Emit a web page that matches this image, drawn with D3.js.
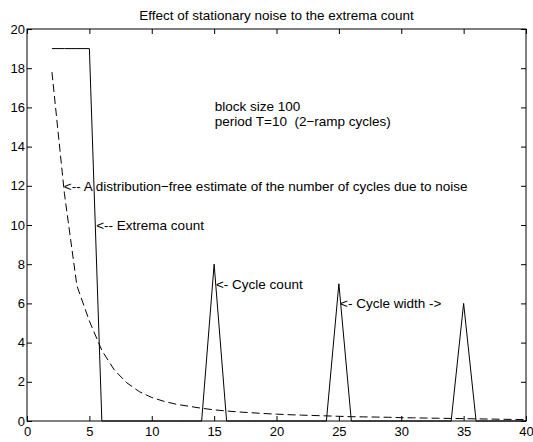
<!DOCTYPE html>
<html>
<head>
<meta charset="utf-8">
<script src="https://cdn.jsdelivr.net/npm/d3@7"></script>
<style>
  body { margin: 0; background: #fff; }
  text { font-family: "Liberation Sans", Arial, sans-serif; white-space: pre; }
</style>
</head>
<body>
<div id="G"></div>
<script>
// extrema count / cycle count (solid), x = 2..40
var xs = d3.range(2, 41);
var countVals = [19, 19, 19, 19, 0, 0, 0, 0, 0, 0, 0, 0, 0, 8, 0, 0, 0, 0, 0, 0, 0, 0, 0, 7, 0, 0, 0, 0, 0, 0, 0, 0, 0, 6, 0, 0, 0, 0, 0];
// distribution-free estimate of cycles due to noise (dashed)
var noiseVals = [17.8, 11.6, 6.9, 5.1, 3.6, 2.6, 1.95, 1.5, 1.2, 1.0, 0.85, 0.75, 0.65, 0.57, 0.51, 0.46, 0.42, 0.38, 0.35, 0.32,
  0.30, 0.28, 0.26, 0.24, 0.22, 0.21, 0.20, 0.19, 0.17, 0.16, 0.15, 0.14, 0.13, 0.12, 0.11, 0.10, 0.09, 0.08, 0.07];
var xTicks = [0, 5, 10, 15, 20, 25, 30, 35, 40];
var yTicks = [0, 2, 4, 6, 8, 10, 12, 14, 16, 18, 20];
var titleText = "Effect of stationary noise to the extrema count";
var notes = [
  { x: 15.05, y: 16.05, t: "block size 100" },
  { x: 15.05, y: 15.3, t: "period T=10  (2\u2212ramp cycles)" },
  { x: 2.95, y: 12, t: "<-- A distribution\u2212free estimate of the number of cycles due to noise" },
  { x: 5.55, y: 10, t: "<-- Extrema count" },
  { x: 15.15, y: 7, t: "<- Cycle count" },
  { x: 25.1, y: 6, t: "<- Cycle width ->" }
];

var Border = { top: 29, right: 7, bottom: 21, left: 27 },
  width = 533 - Border.left - Border.right,
  height = 442 - Border.top - Border.bottom;

var svg = d3.select("#G")
  .append("svg")
  .attr("width", 533)
  .attr("height", 442)
  .append("g")
  .attr("transform", "translate(" + Border.left + "," + Border.top + ")");

var x = d3.scaleLinear().domain([0, 40]).range([0, width]);
var y = d3.scaleLinear().domain([0, 20]).range([height, 0]);

// axes, ticks pointing inward
svg.append("g")
  .attr("transform", "translate(0," + height + ")")
  .call(d3.axisBottom(x).tickValues(xTicks).tickSizeInner(-5).tickSizeOuter(0).tickPadding(6));
svg.append("g")
  .call(d3.axisTop(x).tickValues(xTicks).tickSizeInner(-5).tickSizeOuter(0).tickFormat(""));
svg.append("g")
  .call(d3.axisLeft(y).tickValues(yTicks).tickSizeInner(-5).tickSizeOuter(0).tickPadding(2));
svg.append("g")
  .attr("transform", "translate(" + width + ",0)")
  .call(d3.axisRight(y).tickValues(yTicks).tickSizeInner(-5).tickSizeOuter(0).tickFormat(""));

svg.selectAll(".domain").remove();
svg.selectAll(".tick text").attr("font-size", 13).attr("fill", "#000")
  .style("font-family", "'Liberation Sans', Arial, sans-serif");
svg.selectAll(".tick line").attr("stroke", "#000");

svg.append("rect")
  .attr("width", width)
  .attr("height", height)
  .attr("fill", "none")
  .attr("stroke", "#000")
  .attr("stroke-width", 1);

var line = d3.line()
  .x(function (d) { return x(d[0]) })
  .y(function (d) { return y(d[1]) });

svg.append("path")
  .datum(xs.map(function (v, i) { return [v, noiseVals[i]] }))
  .attr("fill", "none")
  .attr("stroke", "#000")
  .attr("stroke-dasharray", "8,4")
  .attr("d", line);

svg.append("path")
  .datum(xs.map(function (v, i) { return [v, countVals[i]] }))
  .attr("fill", "none")
  .attr("stroke", "#000")
  .attr("d", line);

svg.append("text")
  .attr("x", width / 2)
  .attr("y", -14)
  .attr("dy", "0.35em")
  .attr("text-anchor", "middle")
  .attr("font-size", 13.5)
  .text(titleText);

svg.selectAll(".note")
  .data(notes)
  .enter()
  .append("text")
  .attr("class", "note")
  .attr("x", function (d) { return x(d.x) })
  .attr("y", function (d) { return y(d.y) })
  .attr("dy", "0.35em")
  .attr("font-size", 13.5)
  .text(function (d) { return d.t });
</script>
</body>
</html>
